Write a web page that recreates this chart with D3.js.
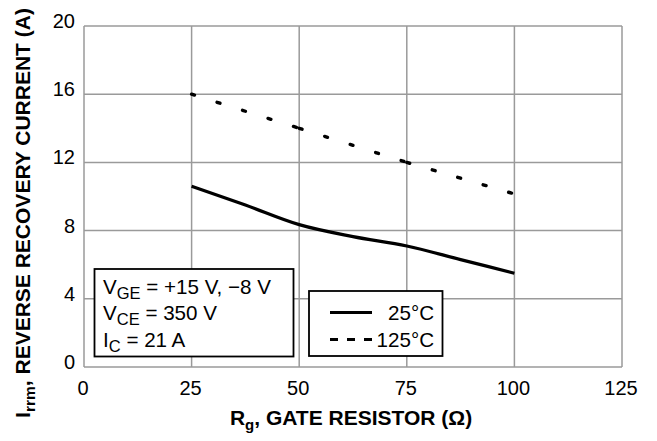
<!DOCTYPE html>
<html>
<head>
<meta charset="utf-8">
<script src="https://cdn.jsdelivr.net/npm/d3@7"></script>
<style>
  body { margin: 0; background: #fff; }
  text { font-family: "Liberation Sans", Arial, sans-serif; fill: #000; }
  .tick-label { font-size: 20px; }
  .axis-title { font-size: 21px; font-weight: bold; }
  .note { font-size: 20.6px; }
</style>
</head>
<body>
<svg id="chart" width="657" height="441"></svg>
<script>
// values
const xTicks = [0, 25, 50, 75, 100, 125];
const yTicks = [0, 4, 8, 12, 16, 20];

const rg = [25, 37.5, 50, 62.5, 75, 87.5, 100];
const irr25 = [10.6, 9.5, 8.35, 7.65, 7.1, 6.3, 5.5];

const rg125 = [25, 50, 75, 100];
const irr125 = [16, 14, 12, 10.15];

const margin = { top: 26, right: 35, bottom: 74, left: 84 };
const width = 657 - margin.left - margin.right;
const height = 441 - margin.top - margin.bottom;

const svg = d3.select("#chart");
const g = svg.append("g")
	.attr("transform", `translate(${margin.left}, ${margin.top})`);

const x = d3.scaleLinear().domain([0, 125]).range([0, width]);
const y = d3.scaleLinear().domain([0, 20]).range([height, 0]);

// grid
g.selectAll(".vgrid")
	.data(xTicks)
	.enter()
	.append("line")
	.attr("x1", d => x(d))
	.attr("x2", d => x(d))
	.attr("y1", 0)
	.attr("y2", height)
	.attr("stroke", "#9a9a9a")
	.attr("stroke-width", 1.5);

g.selectAll(".hgrid")
	.data(yTicks)
	.enter()
	.append("line")
	.attr("x1", 0)
	.attr("x2", width)
	.attr("y1", d => y(d))
	.attr("y2", d => y(d))
	.attr("stroke", "#9a9a9a")
	.attr("stroke-width", 1.5);

// tick labels
g.selectAll(".ylab")
	.data(yTicks)
	.enter()
	.append("text")
	.attr("class", "tick-label")
	.attr("x", -9)
	.attr("y", d => y(d) + 2)
	.attr("text-anchor", "end")
	.text(d => d);

g.selectAll(".xlab")
	.data(xTicks)
	.enter()
	.append("text")
	.attr("class", "tick-label")
	.attr("x", d => x(d) - 1)
	.attr("y", height + 28)
	.attr("text-anchor", "middle")
	.text(d => d);

// axis titles
const xt = svg.append("text")
	.attr("class", "axis-title")
	.attr("x", margin.left + width / 2 - 2)
	.attr("y", 425)
	.attr("text-anchor", "middle");
xt.append("tspan").text("R");
xt.append("tspan").attr("font-size", "15px").attr("dy", 5).text("g");
xt.append("tspan").attr("dy", -5).text(", GATE RESISTOR (\u03A9)");

const yt = svg.append("text")
	.attr("class", "axis-title")
	.attr("font-size", "21.6px")
	.attr("transform", "translate(30, 213) rotate(-90)")
	.attr("text-anchor", "middle");
yt.append("tspan").text("I");
yt.append("tspan").attr("font-size", "15.5px").attr("dy", 5).text("rrm");
yt.append("tspan").attr("dy", -5).text(", REVERSE RECOVERY CURRENT (A)");

// curves
const line = d3.line()
	.x(d => x(d[0]))
	.y(d => y(d[1]));

g.append("path")
	.datum(d3.zip(rg, irr25))
	.attr("d", line.curve(d3.curveMonotoneX))
	.attr("fill", "none")
	.attr("stroke", "#000")
	.attr("stroke-width", 3.2);

// dashed: each segment restarts its dash pattern, like the original
const pts125 = d3.zip(rg125, irr125);
const dash = 6;
for (let i = 0; i < pts125.length - 1; i++) {
	const seg = g.append("path")
		.datum([pts125[i], pts125[i + 1]])
		.attr("d", d3.line().x(d => x(d[0])).y(d => y(d[1])))
		.attr("fill", "none")
		.attr("stroke", "#000")
		.attr("stroke-width", 3.4)
		.attr("stroke-linecap", "round");
	const len = seg.node().getTotalLength();
	const gap = (len - dash * 5) / 4;
	seg.attr("stroke-dasharray", `${dash - 3},${gap + 3}`);
}

// conditions box
svg.append("rect")
	.attr("x", 94.5)
	.attr("y", 269)
	.attr("width", 199)
	.attr("height", 87.5)
	.attr("fill", "#fff")
	.attr("stroke", "#000")
	.attr("stroke-width", 1.8);

const notes = [
	["V", "GE", " = +15 V, \u22128 V"],
	["V", "CE", " = 350 V"],
	["I", "C", " = 21 A"]
];
notes.forEach((n, i) => {
	const t = svg.append("text")
		.attr("class", "note")
		.attr("x", 103)
		.attr("y", 293.5 + i * 26.6);
	t.append("tspan").text(n[0]);
	t.append("tspan").attr("font-size", "16.5px").attr("dy", 5).text(n[1]);
	t.append("tspan").attr("dy", -5).text(n[2]);
});

// legend box
svg.append("rect")
	.attr("x", 309)
	.attr("y", 291)
	.attr("width", 133.5)
	.attr("height", 65)
	.attr("fill", "#fff")
	.attr("stroke", "#000")
	.attr("stroke-width", 1.8);

const legendItems = [
	{ label: "25\u00B0C", dash: null },
	{ label: "125\u00B0C", dash: "8,9" }
];
legendItems.forEach((d, i) => {
	const yy = 312.5 + i * 27;
	svg.append("line")
		.attr("x1", 330)
		.attr("x2", 372)
		.attr("y1", yy)
		.attr("y2", yy)
		.attr("stroke", "#000")
		.attr("stroke-width", 3.2)
		.attr("stroke-dasharray", d.dash);
	svg.append("text")
		.attr("class", "note")
		.attr("x", 434)
		.attr("y", yy + 7.5)
		.attr("text-anchor", "end")
		.text(d.label);
});
</script>
</body>
</html>
